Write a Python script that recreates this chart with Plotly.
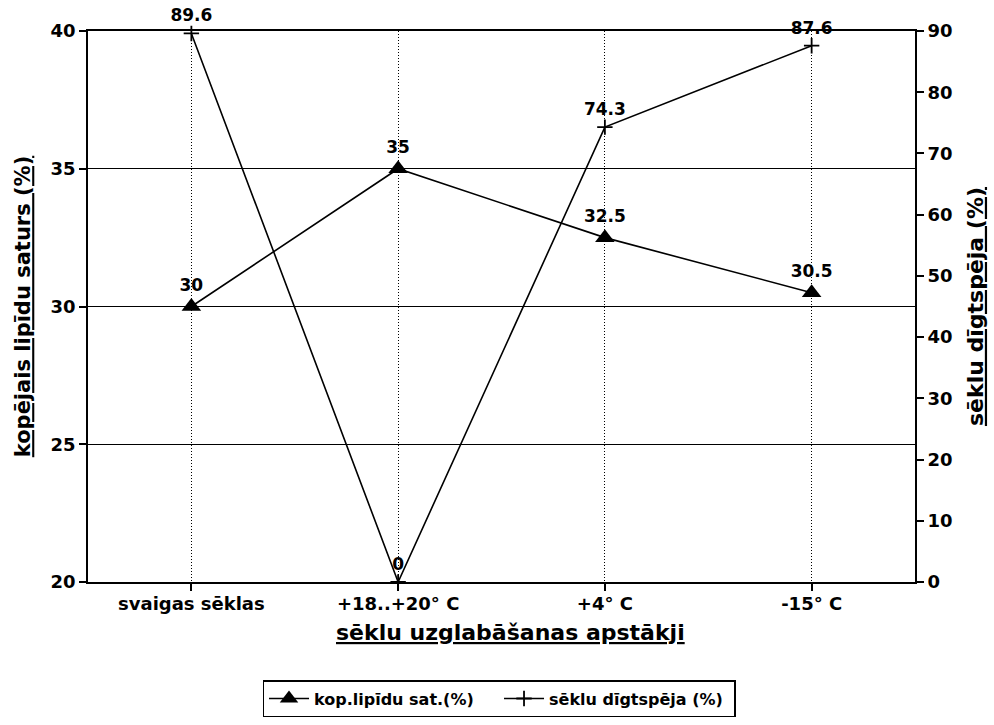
import plotly.graph_objects as go

categories = ["svaigas sēklas", "+18..+20° C", "+4° C", "-15° C"]
lipids = [30, 35, 32.5, 30.5]
germination = [89.6, 0, 74.3, 87.6]
lipid_labels = ["30", "35", "32.5", "30.5"]
germ_labels = ["89.6", "0", "74.3", "87.6"]
left_ticks = [20, 25, 30, 35, 40]
right_ticks = [0, 10, 20, 30, 40, 50, 60, 70, 80, 90]

FONT = "DejaVu Sans"

fig = go.Figure()
fig.add_trace(go.Scatter(
    x=categories, y=lipids, name="<b>kop.lipīdu sat.(%)</b>",
    mode="lines+markers+text", text=["<b>%s</b>" % t for t in lipid_labels],
    textposition="top center", textfont=dict(family=FONT, size=17, color="black"),
    line=dict(color="black", width=1.6),
    marker=dict(symbol="triangle-up", size=17, color="black"),
    yaxis="y", cliponaxis=False,
))
fig.add_trace(go.Scatter(
    x=categories, y=germination, name="<b>sēklu dīgtspēja (%)</b>",
    mode="lines+markers+text", text=["<b>%s</b>" % t for t in germ_labels],
    textposition="top center", textfont=dict(family=FONT, size=17, color="black"),
    line=dict(color="black", width=1.6),
    marker=dict(symbol="cross-thin", size=11, color="black", line=dict(color="black", width=1.8)),
    yaxis="y2", cliponaxis=False,
))

fig.add_annotation(
    text="<b><u>sēklu uzglabāšanas apstākji</u></b>",
    xref="paper", yref="paper", x=0.511, y=-0.092,
    xanchor="center", yanchor="middle", showarrow=False,
    font=dict(family=FONT, size=22, color="black"),
)

fig.update_layout(
    width=994, height=725,
    margin=dict(l=88, r=79, t=31, b=143, autoexpand=False),
    paper_bgcolor="white", plot_bgcolor="white",
    font=dict(family=FONT, color="black"),
    showlegend=True,
    legend=dict(
        orientation="h", x=0.497, xanchor="center", y=-0.178, yanchor="top",
        bordercolor="black", borderwidth=1.5, bgcolor="white",
        font=dict(family=FONT, size=16, color="black"),
        entrywidth=180, itemwidth=40,
    ),
    xaxis=dict(
        type="category", range=[-0.5, 3.5], automargin=False,
        showline=True, linecolor="black", linewidth=1.6, mirror=True,
        ticks="outside", ticklen=7, tickcolor="black", tickwidth=1.5,
        ticklabelstandoff=-2,
        showgrid=True, gridcolor="black", gridwidth=1, griddash="1px,2px",
        tickfont=dict(family=FONT, size=18, color="black"),
        tickvals=categories, ticktext=["<b>%s</b>" % c for c in categories],
    ),
    yaxis=dict(
        range=[20, 40], automargin=False,
        showline=True, linecolor="black", linewidth=1.6,
        ticks="outside", ticklen=7, tickcolor="black", tickwidth=1.5,
        showgrid=True, gridcolor="black", gridwidth=1,
        zeroline=False,
        tickfont=dict(family=FONT, size=18, color="black"),
        tickvals=left_ticks, ticktext=["<b>%d</b>" % v for v in left_ticks],
        title=dict(text="<b><u>kopējais lipīdu saturs (%)</u></b>",
                   font=dict(family=FONT, size=21, color="black"), standoff=14),
    ),
    yaxis2=dict(
        range=[0, 90], overlaying="y", side="right", automargin=False,
        showline=True, linecolor="black", linewidth=1.6,
        ticks="outside", ticklen=7, tickcolor="black", tickwidth=1.5,
        showgrid=False, zeroline=False,
        tickfont=dict(family=FONT, size=18, color="black"),
        tickvals=right_ticks, ticktext=["<b>%d</b>" % v for v in right_ticks],
        title=dict(text="<b><u>sēklu dīgtspēja (%)</u></b>",
                   font=dict(family=FONT, size=22, color="black"), standoff=16),
    ),
)

fig.write_html("out.html")
